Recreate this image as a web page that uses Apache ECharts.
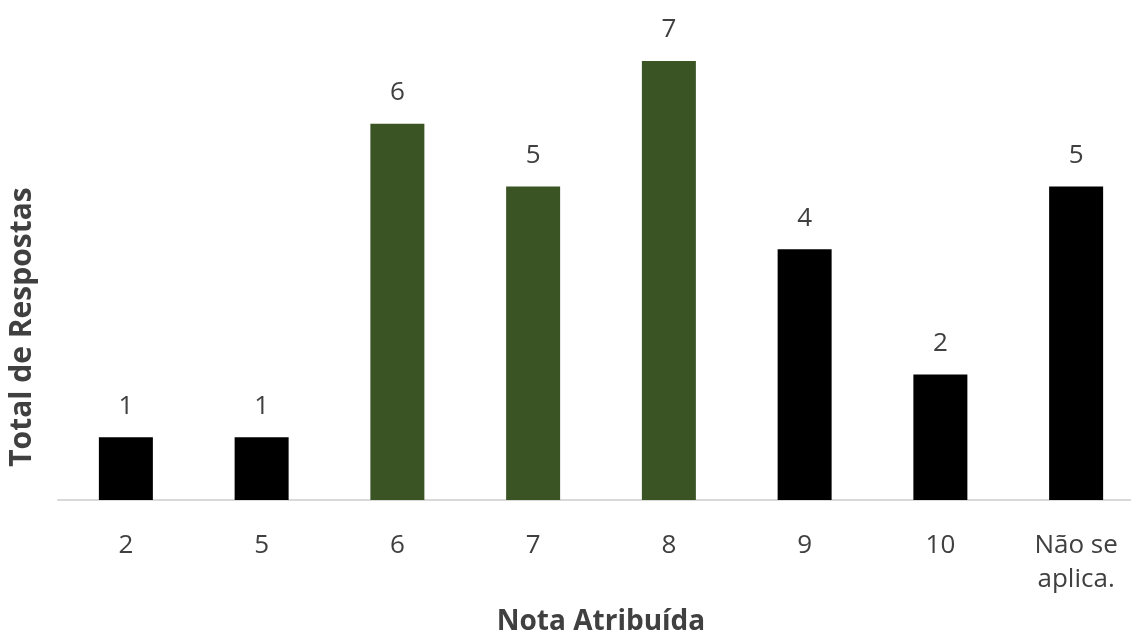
<!DOCTYPE html>
<html>
<head>
<meta charset="utf-8">
<style>
  html, body { margin: 0; padding: 0; background: #ffffff; overflow: hidden; }
  #chart { width: 1144px; height: 637px; }
</style>
<script src="https://cdn.jsdelivr.net/npm/echarts@6/dist/echarts.min.js"></script>
</head>
<body>
<div id="chart"></div>
<script>
// Scores given and the number of answers for each
const categories = ['2', '5', '6', '7', '8', '9', '10', 'Não se\naplica.'];
const totals = [1, 1, 6, 5, 7, 4, 2, 5];
const highlighted = ['6', '7', '8'];
const xTitle = 'Nota Atribuída';
const yTitle = 'Total de Respostas';

const BLACK = '#000000';
const GREEN = '#3a5424';
const TEXT = '#404040';
const FONT = '"Open Sans", "Noto Sans", sans-serif';

const chart = echarts.init(document.getElementById('chart'));

chart.setOption({
  animation: false,
  backgroundColor: '#ffffff',
  grid: {
    left: 58, top: 61, right: 0, bottom: 137,
    containLabel: false,
    outerBoundsMode: 'none'
  },
  xAxis: {
    type: 'category',
    data: categories,
    name: xTitle,
    nameLocation: 'middle',
    nameGap: 108,
    nameTextStyle: { fontFamily: FONT, fontSize: 28, fontWeight: 'bold', color: TEXT },
    axisLine: { lineStyle: { color: '#d9d9d9', width: 2 } },
    axisTick: { show: false },
    axisLabel: { color: TEXT, fontFamily: FONT, fontSize: 26, lineHeight: 34, margin: 29 }
  },
  yAxis: {
    type: 'value',
    min: 0,
    max: 7,
    axisLine: { show: false },
    axisTick: { show: false },
    axisLabel: { show: false },
    splitLine: { show: false }
  },
  graphic: [{
    type: 'text',
    x: 22,
    y: 327,
    rotation: Math.PI / 2,
    style: {
      text: yTitle,
      fill: TEXT,
      font: 'bold 30px ' + FONT,
      align: 'center',
      verticalAlign: 'middle'
    }
  }],
  series: [{
    type: 'bar',
    barWidth: 54,
    data: totals.map((v, i) => ({
      value: v,
      itemStyle: { color: highlighted.includes(categories[i]) ? GREEN : BLACK }
    })),
    label: {
      show: true,
      position: 'top',
      distance: 18,
      color: TEXT,
      fontFamily: FONT,
      fontSize: 26
    }
  }]
});
</script>
</body>
</html>
